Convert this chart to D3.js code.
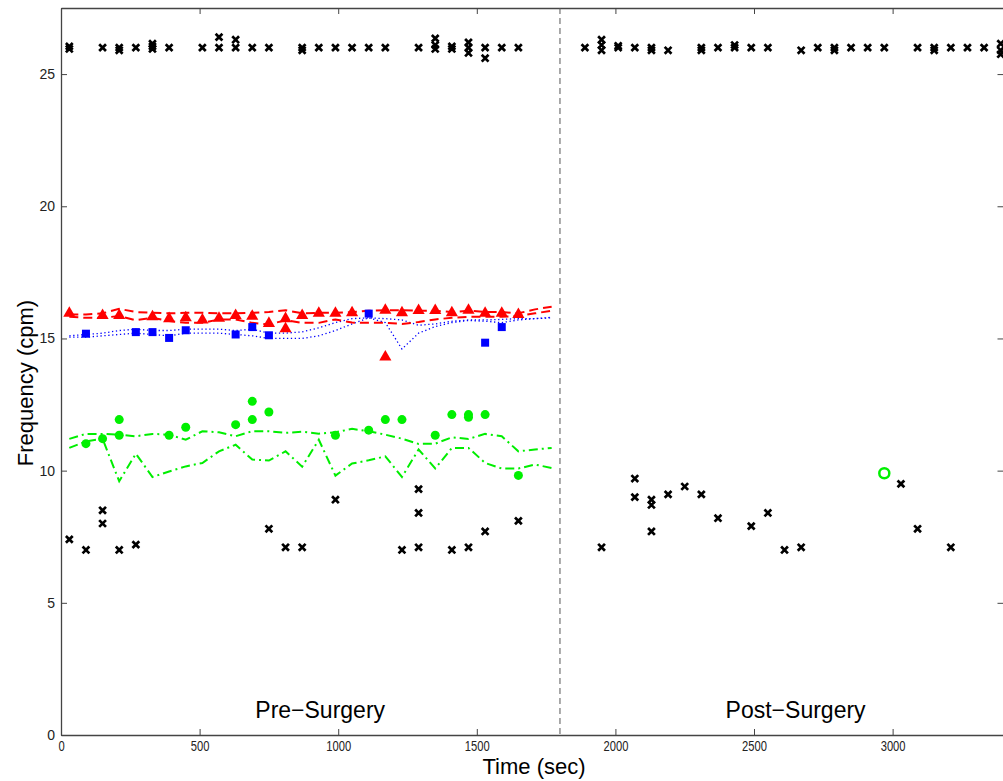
<!DOCTYPE html>
<html>
<head>
<meta charset="utf-8">
<script src="https://cdn.jsdelivr.net/npm/d3@7"></script>
<style>
  body { margin: 0; background: #fff; }
  svg { display: block; font-family: "Liberation Sans", Arial, sans-serif; }
  .axis path, .axis line { stroke: #444; }
  .axis text { fill: #222; }
</style>
</head>
<body>
<svg></svg>
<script>
var width = 1003;
var height = 781;

// black "x" markers (time, frequency)
var crossT = [30, 30, 150, 210, 210, 270, 330, 330, 330, 390, 510, 570, 570, 630, 630, 690, 750, 870, 870, 930, 990, 1050, 1110, 1170, 1290,
  1350, 1350, 1350, 1410, 1410, 1470, 1470, 1470, 1530, 1530, 1590, 1650,
  1890, 1950, 1950, 1950, 2010, 2010, 2070, 2130, 2130, 2190, 2310, 2310, 2370, 2430, 2430, 2490, 2550, 2670, 2730, 2790, 2790, 2850,
  2910, 2970, 3090, 3150, 3150, 3210, 3270, 3330, 3390, 3390, 3390,
  30, 90, 150, 150, 210, 270, 750, 810, 870, 990, 1230, 1290, 1290, 1290, 1410, 1470, 1530, 1650,
  1950, 2070, 2070, 2130, 2130, 2130, 2190, 2250, 2310, 2370, 2490, 2550, 2610, 2670, 3030, 3090, 3210];
var crossV = [26.05, 25.95, 26.0, 26.0, 25.9, 26.0, 26.15, 26.05, 25.95, 26.0, 26.0, 26.4, 26.0, 26.3, 26.0, 26.0, 26.0, 26.0, 25.9, 26.0, 26.0, 26.0, 26.0, 26.0, 26.0,
  26.35, 26.1, 25.95, 26.05, 25.95, 26.2, 26.0, 25.8, 26.0, 25.6, 26.0, 26.0,
  26.0, 26.3, 26.1, 25.9, 26.07, 26.0, 26.0, 26.0, 25.9, 25.9, 26.0, 25.9, 26.0, 26.1, 26.0, 26.0, 26.0, 25.9, 26.0, 26.0, 25.9, 26.0,
  26.0, 26.0, 26.0, 26.0, 25.9, 26.0, 26.0, 26.0, 26.15, 25.9, 25.75,
  7.4, 7.0, 8.5, 8.0, 7.0, 7.2, 7.8, 7.1, 7.1, 8.9, 7.0, 9.3, 8.4, 7.1, 7.0, 7.1, 7.7, 8.1,
  7.1, 9.7, 9.0, 8.9, 8.7, 7.7, 9.1, 9.4, 9.1, 8.2, 7.9, 8.4, 7.0, 7.1, 9.5, 7.8, 7.1];

// red triangles
var triT = [30, 150, 210, 330, 390, 450, 510, 570, 630, 690, 750, 810, 810, 870, 930, 990, 1050, 1170, 1170, 1230, 1290, 1350, 1410, 1470, 1530, 1590, 1650];
var triV = [15.95, 15.87, 15.87, 15.82, 15.75, 15.78, 15.7, 15.76, 15.87, 15.84, 15.57, 15.75, 15.37, 15.87, 15.95, 15.95, 15.97, 16.07, 14.3, 15.97, 16.06, 16.06, 15.97, 16.07, 15.95, 15.95, 15.91];

// blue squares
var sqT = [90, 270, 330, 390, 450, 630, 690, 750, 1110, 1530, 1590];
var sqV = [15.18, 15.24, 15.24, 15.02, 15.31, 15.15, 15.43, 15.12, 15.94, 14.84, 15.43];

// green dots
var dotT = [90, 150, 210, 210, 390, 450, 630, 690, 690, 750, 990, 1110, 1170, 1230, 1350, 1410, 1470, 1470, 1530, 1650];
var dotV = [11.02, 11.21, 11.93, 11.34, 11.34, 11.64, 11.74, 12.62, 11.93, 12.22, 11.34, 11.53, 11.93, 11.93, 11.34, 12.12, 12.12, 12.02, 12.12, 9.82];

// green open circle (post-surgery)
var ringT = [2970];
var ringV = [9.9];

// time base of the trend lines
var lineT = [30, 90, 150, 210, 270, 330, 390, 450, 510, 570, 630, 690, 750, 810, 870,
  930, 990, 1050, 1110, 1170, 1230, 1290, 1350, 1410, 1470, 1530, 1590, 1650, 1710, 1770];
var redUpper = [15.91, 15.91, 15.95, 16.12, 16.0, 15.97, 15.95, 15.97, 15.97, 15.95, 15.95, 15.97, 16.0, 16.07, 15.95,
  15.97, 15.97, 16.0, 16.05, 16.07, 16.07, 16.05, 16.05, 16.0, 16.05, 16.0, 16.0, 15.95, 16.1, 16.2];
var redLower = [15.82, 15.78, 15.78, 15.85, 15.69, 15.78, 15.66, 15.59, 15.59, 15.72, 15.72, 15.59, 15.53, 15.69, 15.59,
  15.59, 15.72, 15.6, 15.59, 15.59, 15.55, 15.62, 15.72, 15.78, 15.82, 15.82, 15.82, 15.85, 15.95, 16.05];
var blueUpper = [15.1, 15.15, 15.2, 15.3, 15.35, 15.3, 15.3, 15.35, 15.35, 15.35, 15.3, 15.35, 15.2, 15.2, 15.25,
  15.4, 15.6, 15.75, 15.78, 15.75, 15.7, 15.5, 15.55, 15.65, 15.7, 15.7, 15.72, 15.75, 15.75, 15.78];
var blueLower = [15.05, 15.05, 15.1, 15.15, 15.2, 15.15, 15.1, 15.2, 15.2, 15.2, 15.15, 15.1, 15.0, 15.0, 15.0,
  15.1, 15.3, 15.55, 15.78, 15.6, 14.6, 15.2, 15.45, 15.6, 15.68, 15.65, 15.6, 15.7, 15.75, 15.8];
var greenUpper = [11.2, 11.39, 11.39, 11.36, 11.3, 11.39, 11.36, 11.17, 11.49, 11.45, 11.3, 11.49, 11.49, 11.43, 11.47,
  11.4, 11.45, 11.58, 11.49, 11.36, 11.21, 11.01, 11.02, 11.26, 11.2, 11.39, 11.3, 10.73, 10.8, 10.86];
var greenLower = [10.86, 11.11, 11.2, 9.6, 10.64, 9.76, 9.97, 10.16, 10.29, 10.73, 10.98, 10.42, 10.38, 10.73, 10.15,
  11.17, 9.81, 10.27, 10.39, 10.54, 9.76, 10.8, 10.08, 10.86, 10.86, 10.29, 10.08, 10.08, 10.23, 10.1];

var xTicks = [0, 500, 1000, 1500, 2000, 2500, 3000];
var yTicks = [0, 5, 10, 15, 20, 25];
var surgeryTime = [1800];
var phaseLabels = ['Pre\u2212Surgery', 'Post\u2212Surgery'];
var phaseT = [935, 2650];

var plotLeft = 61, plotRight = 1003.5, plotTop = 8, plotBottom = 735;

var xScale = d3.scaleLinear().domain([0, 3400]).range([plotLeft, plotRight]);
var yScale = d3.scaleLinear().domain([0, 27.5]).range([plotBottom, plotTop]);

var svg = d3.select('svg')
  .attr('width', width)
  .attr('height', height);

function zip(ts, vs){
  return ts.map(function(t, i){ return {t: t, v: vs[i]}; });
}

// box + ticks (MATLAB style: inward ticks on all four sides)
svg.append('g')
  .classed('axis', true)
  .attr('transform', `translate(0, ${plotBottom})`)
  .call(d3.axisBottom(xScale).tickValues(xTicks).tickFormat(d3.format('d'))
    .tickSizeInner(-6).tickSizeOuter(0).tickPadding(6))
  .selectAll('text')
    .style('font-size', '14px')
    .attr('transform', 'scale(0.8, 1)');

svg.append('g')
  .classed('axis', true)
  .attr('transform', `translate(0, ${plotTop})`)
  .call(d3.axisTop(xScale).tickValues(xTicks).tickSizeInner(-6).tickSizeOuter(0).tickFormat(''));

svg.append('g')
  .classed('axis', true)
  .attr('transform', `translate(${plotLeft}, 0)`)
  .call(d3.axisLeft(yScale).tickValues(yTicks).tickSizeInner(-6).tickSizeOuter(0).tickPadding(6))
  .selectAll('text')
    .style('font-size', '14px');

svg.append('g')
  .classed('axis', true)
  .attr('transform', `translate(${plotRight}, 0)`)
  .call(d3.axisRight(yScale).tickValues(yTicks).tickSizeInner(-6).tickSizeOuter(0).tickFormat(''));

svg.selectAll('.axis .domain').attr('stroke-width', 1.3);

// surgery divider
svg.selectAll('line.divider')
  .data(surgeryTime)
  .enter().append('line')
    .attr('class', 'divider')
    .attr('x1', d => xScale(d)).attr('x2', d => xScale(d))
    .attr('y1', plotTop).attr('y2', plotBottom)
    .attr('stroke', '#555')
    .attr('stroke-width', 1)
    .attr('stroke-dasharray', '6,4');

var line = d3.line()
  .x(function(d){ return xScale(d.t); })
  .y(function(d){ return yScale(d.v); });

function trend(vals, color, dash, w){
  svg.append('path')
    .datum(zip(lineT, vals))
    .attr('fill', 'none')
    .attr('stroke', color)
    .attr('stroke-width', w)
    .attr('stroke-dasharray', dash)
    .attr('d', line);
}

trend(blueUpper, '#0000ff', '1.3,2.6', 1.3);
trend(blueLower, '#0000ff', '1.3,2.6', 1.3);
trend(redUpper, '#ff0000', '9,5', 2);
trend(redLower, '#ff0000', '9,5', 2);
trend(greenUpper, '#00ee00', '9,4,2,4', 2);
trend(greenLower, '#00ee00', '9,4,2,4', 2);

// markers
svg.selectAll('path.tri')
  .data(zip(triT, triV))
  .enter().append('path')
    .attr('class', 'tri')
    .attr('transform', d => `translate(${xScale(d.t)}, ${yScale(d.v)})`)
    .attr('d', d3.symbol(d3.symbolTriangle, 64))
    .attr('fill', '#ff0000');

svg.selectAll('rect.sq')
  .data(zip(sqT, sqV))
  .enter().append('rect')
    .attr('class', 'sq')
    .attr('x', d => xScale(d.t) - 4)
    .attr('y', d => yScale(d.v) - 4)
    .attr('width', 8)
    .attr('height', 8)
    .attr('fill', '#0000ff');

svg.selectAll('circle.dot')
  .data(zip(dotT, dotV))
  .enter().append('circle')
    .attr('class', 'dot')
    .attr('cx', d => xScale(d.t))
    .attr('cy', d => yScale(d.v))
    .attr('r', 4.5)
    .attr('fill', '#00f000');

svg.selectAll('circle.ring')
  .data(zip(ringT, ringV))
  .enter().append('circle')
    .attr('class', 'ring')
    .attr('cx', d => xScale(d.t))
    .attr('cy', d => yScale(d.v))
    .attr('r', 5)
    .attr('fill', 'none')
    .attr('stroke', '#00f000')
    .attr('stroke-width', 2.5);

var s = 3.4;
svg.selectAll('path.cross')
  .data(zip(crossT, crossV))
  .enter().append('path')
    .attr('class', 'cross')
    .attr('transform', d => `translate(${xScale(d.t)}, ${yScale(d.v)})`)
    .attr('d', `M${-s},${-s}L${s},${s}M${-s},${s}L${s},${-s}`)
    .attr('stroke', '#000')
    .attr('stroke-width', 2.7)
    .attr('fill', 'none');

// phase labels
svg.selectAll('text.phase')
  .data(phaseLabels)
  .enter().append('text')
    .attr('class', 'phase')
    .attr('x', (d, i) => xScale(phaseT[i]))
    .attr('y', 718)
    .style('text-anchor', 'middle')
    .style('font-size', '23px')
    .text(d => d);

// X axis label
svg.append('text')
  .attr('x', 534)
  .attr('y', 774)
  .style('text-anchor', 'middle')
  .style('font-size', '22px')
  .text('Time (sec)');

// Y axis label
svg.append('text')
  .attr('transform', 'rotate(-90)')
  .attr('x', -383)
  .attr('y', 33)
  .style('text-anchor', 'middle')
  .style('font-size', '22px')
  .text('Frequency (cpm)');
</script>
</body>
</html>
